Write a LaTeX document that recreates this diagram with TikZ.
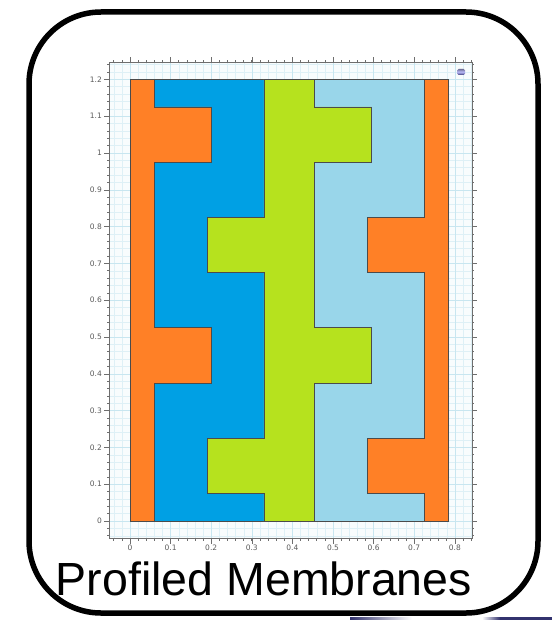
\documentclass[tikz,border=0pt]{standalone}
\usepackage{fontspec}
\setmainfont{Liberation Sans}
\newfontfamily\tickfont{DejaVu Sans}
\definecolor{orng}{RGB}{255,128,38}
\definecolor{blu}{RGB}{0,160,228}
\definecolor{grn}{RGB}{182,226,30}
\definecolor{lblu}{RGB}{153,214,234}
\definecolor{edgec}{RGB}{75,75,75}
\definecolor{gridbgc}{RGB}{248,252,253}
\definecolor{minorc}{RGB}{222,240,246}
\definecolor{majorc}{RGB}{200,230,240}
\definecolor{axisc}{RGB}{110,110,110}
\definecolor{lblc}{RGB}{90,90,90}
\definecolor{navyc}{RGB}{50,50,110}
\tikzset{
  region/.style={draw=edgec, line width=0.8pt},
  minorgrid/.style={draw=minorc, line width=0.4pt},
  majorgrid/.style={draw=majorc, line width=0.5pt},
  axisline/.style={draw=axisc, line width=0.7pt},
  tickmark/.style={draw=axisc, line width=0.6pt},
  ticklbl/.style={text=lblc, font=\tickfont\fontsize{7.5}{8}\selectfont, inner sep=0pt},
  framebox/.style={draw=black, line width=5.5pt, rounded corners=72pt},
  titletext/.style={font=\fontsize{46.5}{50}\selectfont, inner sep=0pt, anchor=base}
}
\begin{document}
\begin{tikzpicture}[x=1pt,y=-1pt]
\useasboundingbox (0,0) rectangle (552,620);
\begin{scope}[shift={(130pt,-521pt)}, x=406pt, y=368pt]
  \coordinate (fll) at (-0.0517,-0.0462);
  \coordinate (fur) at (0.842,1.247);
  \fill[gridbgc] (fll) rectangle (fur);
  \begin{scope}
    \clip (fll) rectangle (fur);
    \draw[minorgrid] (-0.1,-0.1) grid[step=0.02] (0.9,1.3);
    \draw[majorgrid] (-0.1,-0.1) grid[step=0.1] (0.9,1.3);
  \end{scope}
  % regions
  \filldraw[region, fill=blu] (0.06,0) rectangle (0.33,1.2);
  \filldraw[region, fill=lblu] (0.455,0) rectangle (0.725,1.2);
  \filldraw[region, fill=orng] (0,0) -- (0.06,0) -- (0.06,0.375) -- (0.2,0.375) -- (0.2,0.525) -- (0.06,0.525) -- (0.06,0.975) -- (0.2,0.975) -- (0.2,1.125) -- (0.06,1.125) -- (0.06,1.2) -- (0,1.2) -- cycle;
  \filldraw[region, fill=grn] (0.33,0) -- (0.455,0) -- (0.455,0.375) -- (0.595,0.375) -- (0.595,0.525) -- (0.455,0.525) -- (0.455,0.975) -- (0.595,0.975) -- (0.595,1.125) -- (0.455,1.125) -- (0.455,1.2) -- (0.33,1.2) -- (0.33,0.825) -- (0.19,0.825) -- (0.19,0.675) -- (0.33,0.675) -- (0.33,0.225) -- (0.19,0.225) -- (0.19,0.075) -- (0.33,0.075) -- cycle;
  \filldraw[region, fill=orng] (0.725,0) -- (0.785,0) -- (0.785,1.2) -- (0.725,1.2) -- (0.725,0.825) -- (0.585,0.825) -- (0.585,0.675) -- (0.725,0.675) -- (0.725,0.225) -- (0.585,0.225) -- (0.585,0.075) -- (0.725,0.075) -- cycle;
  % frame
  \draw[axisline] (fll) rectangle (fur);
  % minor ticks
  \foreach \k in {-2,...,62} {
    \draw[tickmark] (-0.0517,\k/50) -- ++(-2.5pt,0);
    \draw[tickmark] (0.842,\k/50) -- ++(2.5pt,0);
  }
  \foreach \k in {-2,...,42} {
    \draw[tickmark] (\k/50,-0.0462) -- ++(0,-2.5pt);
    \draw[tickmark] (\k/50,1.247) -- ++(0,2.5pt);
  }
  % major ticks and labels
  \foreach \v/\t [count=\n] in {0/0,0.1/0.1,0.2/0.2,0.3/0.3,0.4/0.4,0.5/0.5,0.6/0.6,0.7/0.7,0.8/0.8,0.9/0.9,1/1,1.1/1.1,1.2/1.2} {
    \draw[tickmark] (-0.0517,\v) -- ++(-5.5pt,0);
    \draw[tickmark] (0.842,\v) -- ++(5pt,0);
    \node[ticklbl, anchor=east] (yl\n) at ([xshift=-7pt]-0.0517,\v) {\t};
  }
  \foreach \v/\t [count=\n] in {0/0,0.1/0.1,0.2/0.2,0.3/0.3,0.4/0.4,0.5/0.5,0.6/0.6,0.7/0.7,0.8/0.8} {
    \draw[tickmark] (\v,-0.0462) -- ++(0,-5.5pt);
    \draw[tickmark] (\v,1.247) -- ++(0,5pt);
    \node[ticklbl, anchor=north] (xl\n) at ([yshift=-7pt]\v,-0.0462) {\t};
  }
\end{scope}
% small icon
\node[minimum width=8pt, minimum height=6pt, inner sep=0pt, rounded corners=1.5pt,
      top color=navyc!70, bottom color=navyc, middle color=blue!25] (icon) at (461,72) {};
% outer rounded frame
\draw[framebox] (29,12) rectangle (538,613);
% title
\node[titletext] (title) at (264,595) {Profiled Membranes};
% cut-off bars at bottom
\shade[left color=navyc, right color=white] (350,617) rectangle (412,620);
\shade[left color=white, right color=navyc] (482,617) rectangle (500,620);
\fill[navyc] (500,617) rectangle (552,620);
\end{tikzpicture}
\end{document}
